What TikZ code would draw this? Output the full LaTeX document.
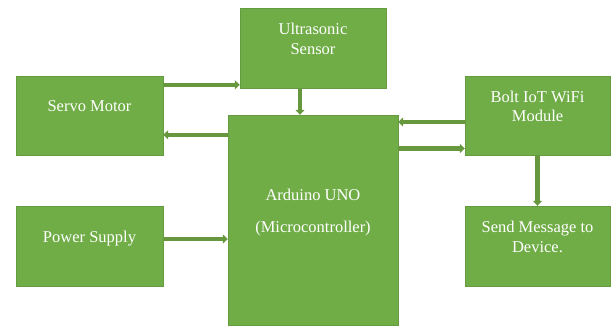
\documentclass[tikz,border=0pt]{standalone}
\usepackage{fontspec}
\setmainfont{Liberation Serif}
\usepackage{xcolor}
\usetikzlibrary{arrows.meta}
\definecolor{boxgreen}{RGB}{112,173,71}
\definecolor{arrowgreen}{RGB}{104,152,62}

\begin{document}
\begin{tikzpicture}[x=1pt, y=-1pt, every node/.style={rectangle, fill=boxgreen,
        draw=boxgreen!90!black, text=white, align=center, inner sep=2pt,
        text depth=18pt, font=\fontsize{16.5}{19.5}\selectfont},
        flow/.style={draw=arrowgreen, line width=4.5pt,
        -{Triangle[width=9pt, length=5pt]}}]
        \useasboundingbox (0,0) rectangle (611,325);
        \node[minimum width=146pt, minimum height=80pt] (ult) at (313, 48) {Ultrasonic\\Sensor};
        \node[minimum width=147pt, minimum height=79pt] (servo) at (89.5, 115.5) {Servo Motor};
        \node[minimum width=170pt, minimum height=210pt] (ard) at (313, 220) {Arduino UNO\\[13pt](Microcontroller)};
        \node[minimum width=145pt, minimum height=79pt] (bolt) at (537.5, 115.5) {Bolt IoT WiFi\\Module};
        \node[minimum width=147pt, minimum height=80pt] (power) at (89.5, 246) {Power Supply};
        \node[minimum width=145pt, minimum height=80pt] (send) at (537.5, 246) {Send Message to\\Device.};

        \coordinate (s1) at ([yshift=-9pt]servo.north east);
        \coordinate (a1) at ([yshift=-20pt]ard.north west);
        \coordinate (u1) at ([xshift=-13pt]ult.south);
        \coordinate (b1) at ([yshift=-6.5pt]bolt.west);
        \coordinate (b2) at ([yshift=-33pt]bolt.west);
        \coordinate (p1) at ([yshift=7pt]power.east);

        \draw[flow] (s1) -- (s1 -| ult.west);
        \draw[flow] (a1) -- (a1 -| servo.east);
        \draw[flow] (u1) -- (u1 |- ard.north);
        \draw[flow] (b1) -- (b1 -| ard.east);
        \draw[flow] (b2 -| ard.east) -- (b2);
        \draw[flow] (bolt.south) -- (send.north);
        \draw[flow] (p1) -- (p1 -| ard.west);
    \end{tikzpicture}
\end{document}
